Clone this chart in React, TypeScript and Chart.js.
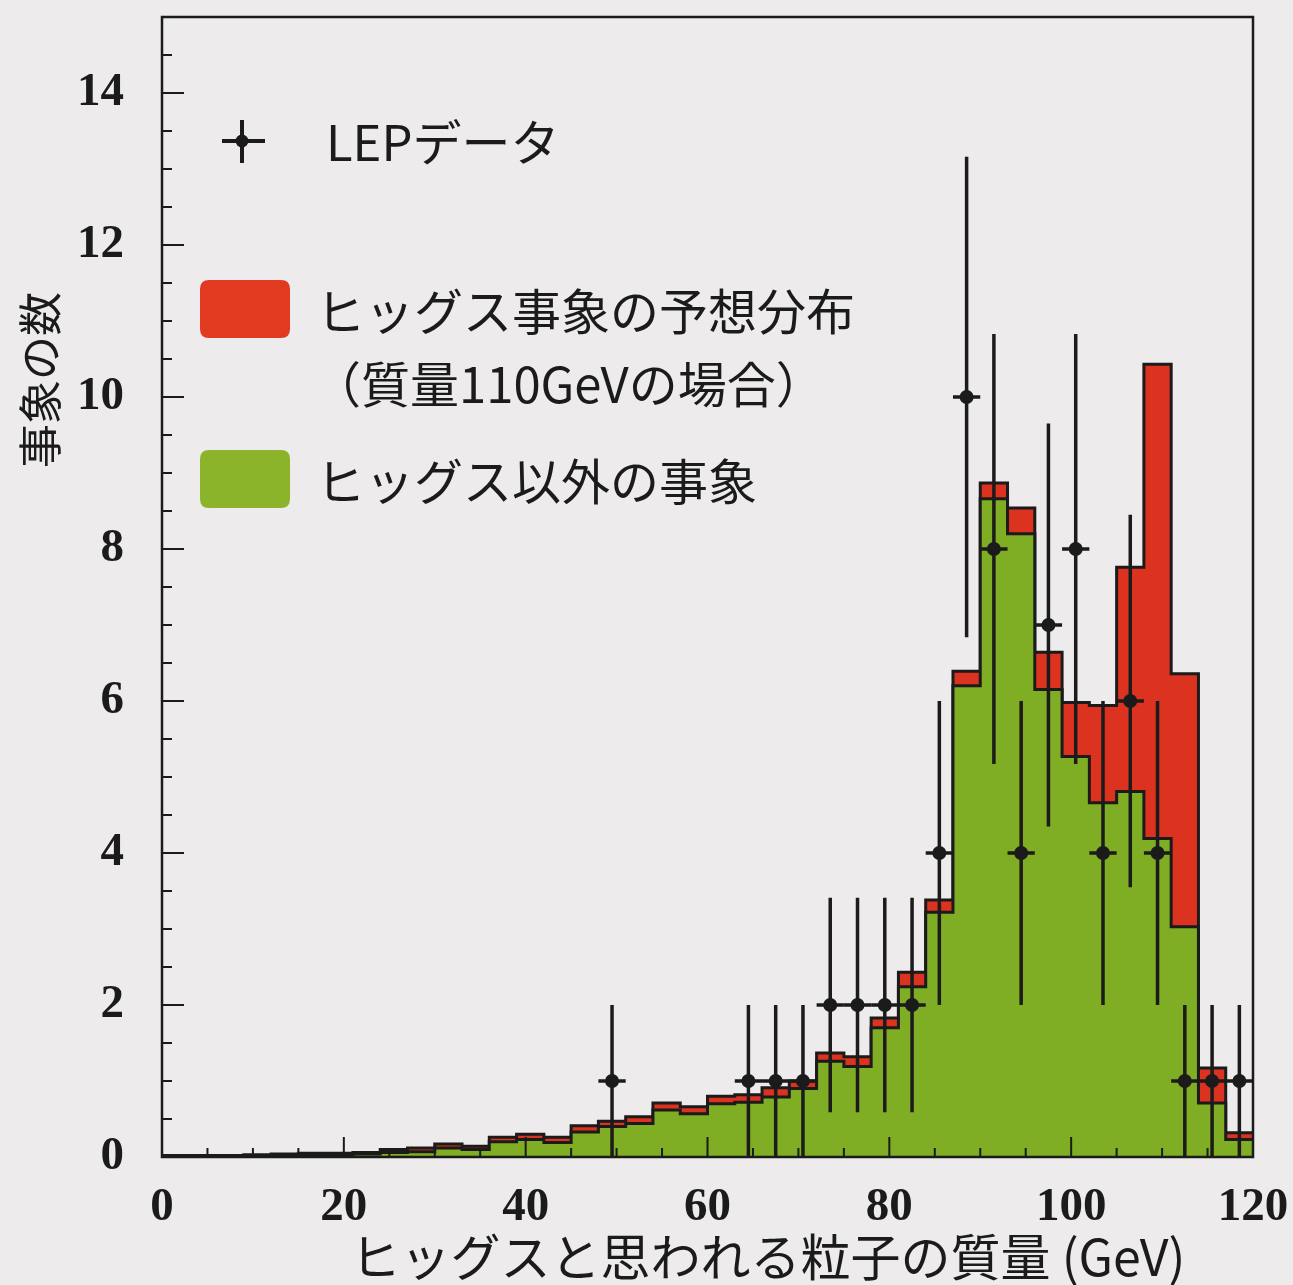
import React, { useEffect, useRef } from 'react';
import { Chart, registerables } from 'chart.js';

Chart.register(...registerables);

// ---------------- data ----------------
const BIN_LEFT_EDGES = [0, 3, 6, 9, 12, 15, 18, 21, 24, 27, 30, 33, 36, 39, 42, 45, 48, 51, 54, 57, 60, 63, 66, 69, 72, 75, 78, 81, 84, 87, 90, 93, 96, 99, 102, 105, 108, 111, 114, 117];
const X_END = 120;
// expected non-Higgs events (green)
const BACKGROUND_EVENTS = [0.01, 0.01, 0.01, 0.02, 0.02, 0.03, 0.03, 0.04, 0.06, 0.07, 0.12, 0.10, 0.20, 0.23, 0.19, 0.33, 0.40, 0.44, 0.62, 0.57, 0.70, 0.72, 0.79, 0.90, 1.26, 1.19, 1.70, 2.24, 3.22, 6.20, 8.66, 8.20, 6.15, 5.27, 4.66, 4.81, 4.19, 3.03, 0.71, 0.23];
// background + expected Higgs signal (top of red)
const TOTAL_EVENTS = [0.02, 0.02, 0.02, 0.03, 0.04, 0.05, 0.05, 0.06, 0.10, 0.12, 0.17, 0.14, 0.26, 0.30, 0.26, 0.41, 0.47, 0.53, 0.71, 0.66, 0.80, 0.82, 0.91, 1.00, 1.37, 1.32, 1.83, 2.43, 3.38, 6.39, 8.87, 8.54, 6.64, 5.98, 5.94, 7.76, 10.43, 6.36, 1.17, 0.32];
// LEP data points
const DATA_MASS = [49.5, 64.5, 67.5, 70.5, 73.5, 76.5, 79.5, 82.5, 85.5, 88.5, 91.5, 94.5, 97.5, 100.5, 103.5, 106.5, 109.5, 112.5, 115.5, 118.5];
const DATA_COUNTS = [1, 1, 1, 1, 2, 2, 2, 2, 4, 10, 8, 4, 7, 8, 4, 6, 4, 1, 1, 1];
const DATA_ERRORS = [1, 1, 1, 1, 1.41, 1.41, 1.41, 1.41, 2, 3.16, 2.83, 2, 2.65, 2.83, 2, 2.45, 2, 1, 1, 1];
const DATA_HALF_BIN = 1.5;

const X_TICK_VALUES = [0, 20, 40, 60, 80, 100, 120];
const Y_TICK_VALUES = [0, 2, 4, 6, 8, 10, 12, 14];
const X_MINOR_STEP = 5;
const Y_MINOR_STEP = 0.5;

const X_TITLE = 'ヒッグスと思われる粒子の質量 (GeV)';
const Y_TITLE = '事象の数';
const LEGEND_DATA = 'LEPデータ';
const LEGEND_SIGNAL = ['ヒッグス事象の予想分布', '（質量110GeVの場合）'];
const LEGEND_BACKGROUND = 'ヒッグス以外の事象';

// ---------------- styles ----------------
const PAGE_BG = '#EDEBEB';
const INK = '#1b1b1b';
const GREEN = '#7fad23';
const RED = '#dc3320';
const LEGEND_RED = '#e23a20';
const LEGEND_GREEN = '#8bb42b';
const CJK = '"Noto Sans CJK JP", "Noto Sans", sans-serif';
const SERIF = '"Liberation Serif", "Times New Roman", serif';

function histPoints(values: number[]) {
  const pts = BIN_LEFT_EDGES.map((x, i) => ({ x, y: values[i] }));
  pts.push({ x: X_END, y: values[values.length - 1] });
  return pts;
}

function roundRect(ctx: CanvasRenderingContext2D, x: number, y: number, w: number, h: number, r: number) {
  ctx.beginPath();
  ctx.moveTo(x + r, y);
  ctx.lineTo(x + w - r, y);
  ctx.quadraticCurveTo(x + w, y, x + w, y + r);
  ctx.lineTo(x + w, y + h - r);
  ctx.quadraticCurveTo(x + w, y + h, x + w - r, y + h);
  ctx.lineTo(x + r, y + h);
  ctx.quadraticCurveTo(x, y + h, x, y + h - r);
  ctx.lineTo(x, y + r);
  ctx.quadraticCurveTo(x, y, x + r, y);
  ctx.closePath();
}

const decorPlugin = {
  id: 'decor',
  beforeDraw(chart: any) {
    const { ctx, width, height } = chart;
    ctx.save();
    ctx.fillStyle = PAGE_BG;
    ctx.fillRect(0, 0, width, height);
    ctx.restore();
  },
  afterDatasetsDraw(chart: any) {
    const { ctx } = chart;
    const xs = chart.scales.x;
    const ys = chart.scales.y;
    ctx.save();
    ctx.strokeStyle = INK;
    ctx.lineWidth = 3.5;
    ctx.lineCap = 'butt';
    DATA_MASS.forEach((m, i) => {
      const v = DATA_COUNTS[i];
      const e = DATA_ERRORS[i];
      const px = xs.getPixelForValue(m);
      const py = ys.getPixelForValue(v);
      ctx.beginPath();
      ctx.moveTo(px, ys.getPixelForValue(Math.max(0, v - e)));
      ctx.lineTo(px, ys.getPixelForValue(v + e));
      ctx.moveTo(xs.getPixelForValue(m - DATA_HALF_BIN), py);
      ctx.lineTo(xs.getPixelForValue(m + DATA_HALF_BIN), py);
      ctx.stroke();
    });
    ctx.restore();
  },
  afterDraw(chart: any) {
    const { ctx, chartArea } = chart;
    const xs = chart.scales.x;
    const ys = chart.scales.y;
    const { left, right, top, bottom } = chartArea;
    ctx.save();
    // frame
    ctx.strokeStyle = INK;
    ctx.lineWidth = 2.5;
    ctx.strokeRect(left, top, right - left, bottom - top);
    // inward ticks
    ctx.lineWidth = 2;
    ctx.beginPath();
    for (let v = 0; v <= ys.max + 1e-9; v += Y_MINOR_STEP) {
      const major = Y_TICK_VALUES.includes(Math.round(v * 100) / 100);
      const py = ys.getPixelForValue(v);
      ctx.moveTo(left, py);
      ctx.lineTo(left + (major ? 22 : 10), py);
    }
    for (let v = 0; v <= xs.max + 1e-9; v += X_MINOR_STEP) {
      const major = X_TICK_VALUES.includes(v);
      const px = xs.getPixelForValue(v);
      ctx.moveTo(px, bottom);
      ctx.lineTo(px, bottom - (major ? 20 : 9));
    }
    ctx.stroke();

    // axis titles
    ctx.fillStyle = INK;
    ctx.font = `50px ${CJK}`;
    ctx.textAlign = 'center';
    ctx.textBaseline = 'middle';
    ctx.fillText(X_TITLE, 768, 1257);
    ctx.save();
    ctx.translate(40, 380);
    ctx.rotate(-Math.PI / 2);
    ctx.font = `44px ${CJK}`;
    ctx.fillText(Y_TITLE, 0, 0);
    ctx.restore();

    // legend
    ctx.textAlign = 'left';
    ctx.font = `49px ${CJK}`;
    // data marker
    ctx.lineWidth = 4;
    ctx.beginPath();
    ctx.moveTo(222, 141);
    ctx.lineTo(265, 141);
    ctx.moveTo(242, 120);
    ctx.lineTo(242, 163);
    ctx.stroke();
    ctx.beginPath();
    ctx.arc(242, 141, 6.5, 0, Math.PI * 2);
    ctx.fill();
    ctx.fillText(LEGEND_DATA, 326, 142);
    // signal
    ctx.fillStyle = LEGEND_RED;
    roundRect(ctx, 200, 280, 90, 58, 9);
    ctx.fill();
    ctx.fillStyle = INK;
    ctx.fillText(LEGEND_SIGNAL[0], 316, 311);
    ctx.fillText(LEGEND_SIGNAL[1], 312, 384);
    // background
    ctx.fillStyle = LEGEND_GREEN;
    roundRect(ctx, 200, 450, 90, 58, 9);
    ctx.fill();
    ctx.fillStyle = INK;
    ctx.fillText(LEGEND_BACKGROUND, 316, 481);
    ctx.restore();
  },
};

export default function App() {
  const ref = useRef<HTMLCanvasElement>(null);

  useEffect(() => {
    document.body.style.background = PAGE_BG;
    const canvas = ref.current;
    if (!canvas) return;
    const tickFont = { family: SERIF, size: 47, weight: 'bold' as const };
    const chart = new Chart(canvas, {
      type: 'line',
      data: {
        datasets: [
          {
            label: LEGEND_BACKGROUND,
            data: histPoints(BACKGROUND_EVENTS),
            stepped: 'before',
            fill: 'origin',
            backgroundColor: GREEN,
            borderColor: INK,
            borderWidth: 3,
            pointRadius: 0,
            order: 1,
          },
          {
            label: LEGEND_SIGNAL.join(''),
            data: histPoints(TOTAL_EVENTS),
            stepped: 'before',
            fill: '-1',
            backgroundColor: RED,
            borderColor: INK,
            borderWidth: 3,
            pointRadius: 0,
            order: 2,
          },
          {
            label: LEGEND_DATA,
            data: DATA_MASS.map((x, i) => ({ x, y: DATA_COUNTS[i] })),
            showLine: false,
            pointRadius: 7,
            pointBackgroundColor: INK,
            pointBorderColor: INK,
            pointBorderWidth: 0,
            order: 0,
          },
        ],
      },
      options: {
        responsive: false,
        animation: false,
        devicePixelRatio: 1,
        events: [],
        layout: { padding: { top: 17, right: 40, left: 0, bottom: 0 } },
        plugins: {
          legend: { display: false },
          tooltip: { enabled: false },
        },
        scales: {
          x: {
            type: 'linear',
            min: 0,
            max: X_END,
            grid: { display: false },
            border: { display: false },
            afterBuildTicks: (s: any) => {
              s.ticks = X_TICK_VALUES.map((value) => ({ value }));
            },
            afterFit: (s: any) => {
              s.height = 128;
              s.paddingLeft = 0;
              s.paddingRight = 0;
            },
            ticks: {
              font: tickFont,
              color: INK,
              padding: 15,
              maxRotation: 0,
              autoSkip: false,
              callback: (v: any) => String(v),
            },
          },
          y: {
            type: 'linear',
            min: 0,
            max: 15,
            grid: { display: false },
            border: { display: false },
            afterBuildTicks: (s: any) => {
              s.ticks = Y_TICK_VALUES.map((value) => ({ value }));
            },
            afterFit: (s: any) => {
              s.width = 162;
              s.paddingTop = 0;
              s.paddingBottom = 0;
            },
            ticks: {
              font: tickFont,
              color: INK,
              padding: 30,
              autoSkip: false,
              callback: (v: any) => String(v),
            },
          },
        },
      },
      plugins: [decorPlugin],
    } as any);
    return () => chart.destroy();
  }, []);

  return (
    <div style={{ position: 'absolute', left: 0, top: 0, width: 1293, height: 1285 }}>
      <canvas ref={ref} width={1293} height={1285} style={{ display: 'block', width: 1293, height: 1285 }} />
    </div>
  );
}
